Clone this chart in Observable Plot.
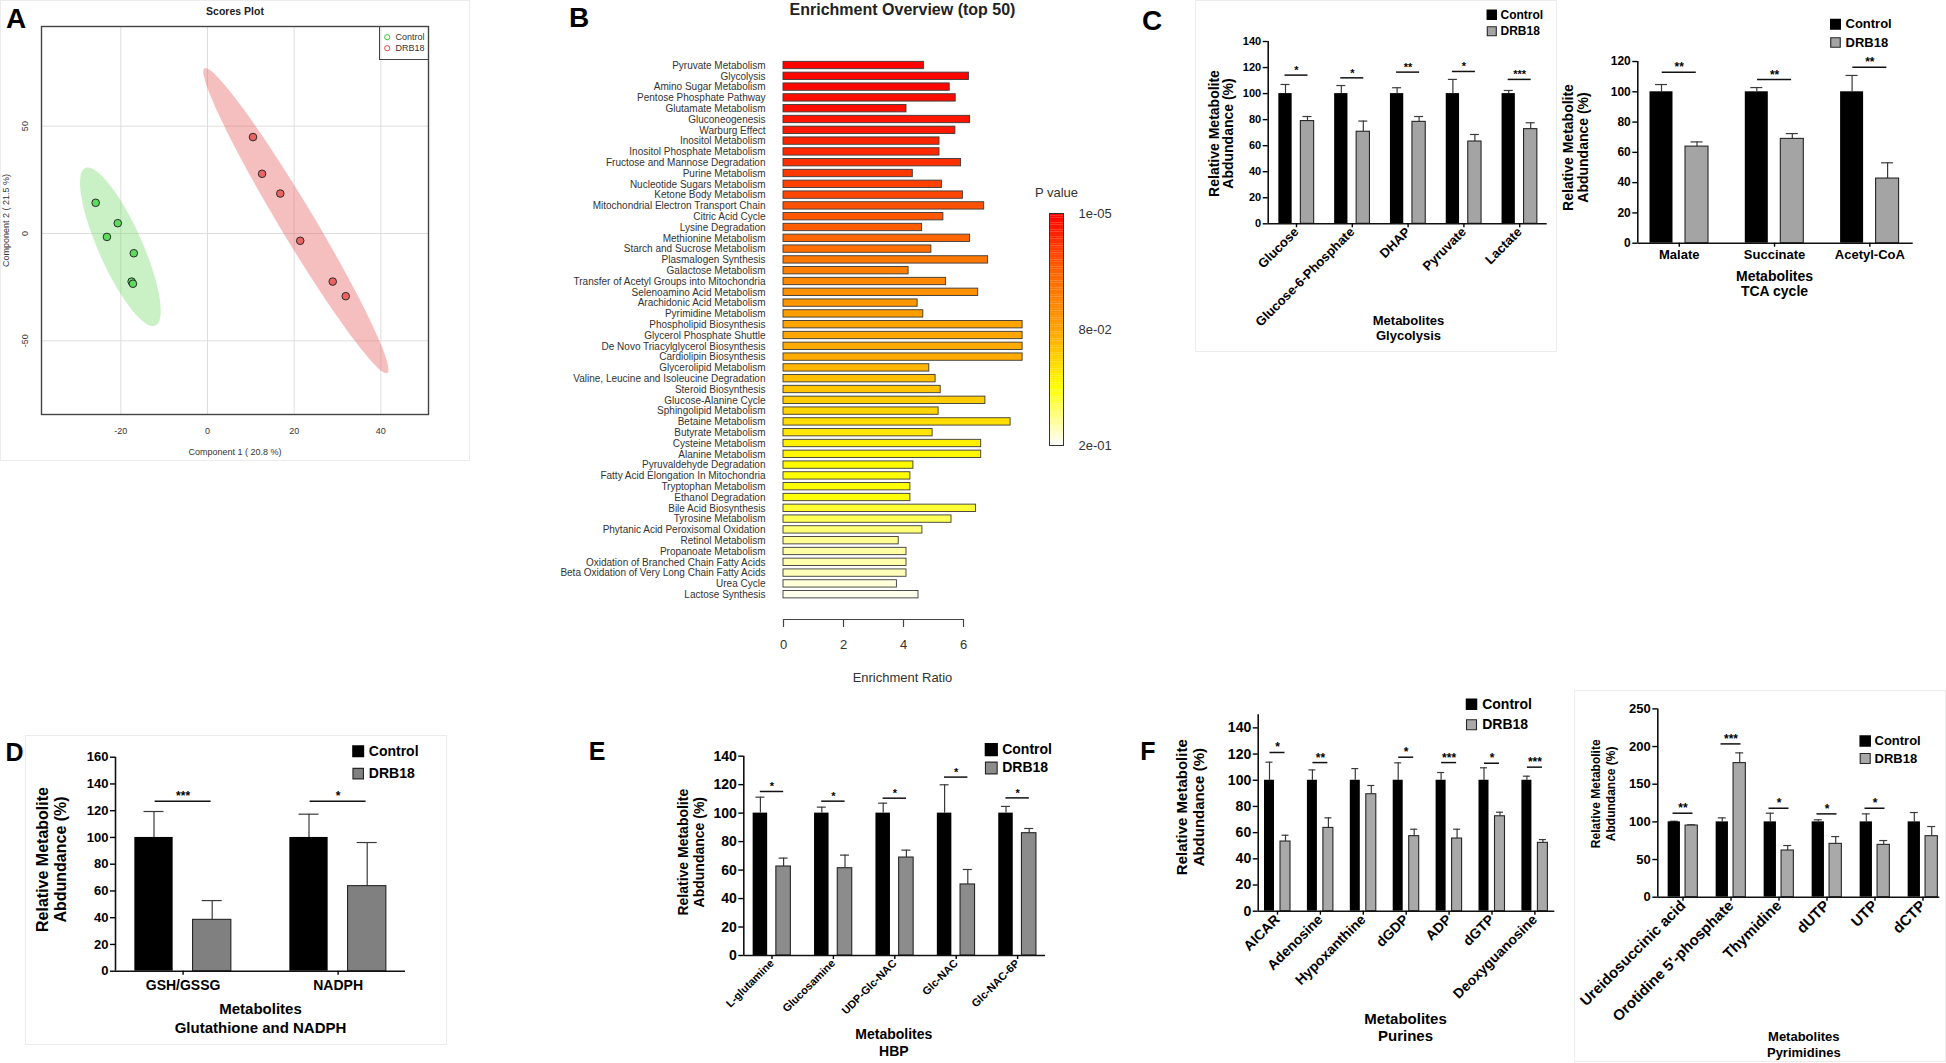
<!DOCTYPE html>
<html><head><meta charset="utf-8">
<script src="https://cdn.jsdelivr.net/npm/d3@7"></script>
<script src="https://cdn.jsdelivr.net/npm/@observablehq/plot@0.6"></script>
<style>
body{margin:0;background:#fff;}
#root{position:relative;width:1946px;height:1063px;overflow:hidden;background:#fff;font-family:'Liberation Sans',Arial,sans-serif;}
.letter{position:absolute;font-weight:bold;line-height:1;color:#000;transform:translate(-50%,-50%);}
.box{position:absolute;border:1px solid #ececec;}
</style></head><body><div id="root"></div>
<script>
// ---------------- Panel A: PLS-DA scores ----------------
const pcaXTicks = [-20, 0, 20, 40];
const pcaYTicks = [-50, 0, 50];
const controlPC1 = [-25.8, -20.7, -23.2, -17.0, -17.5, -17.2];
const controlPC2 = [14.3, 4.8, -1.6, -9.2, -22.4, -23.4];
const drbPC1 = [10.5, 12.6, 16.8, 21.4, 28.9, 31.9];
const drbPC2 = [44.9, 27.8, 18.6, -3.4, -22.4, -29.2];
const ellipseCenter = [[-20.1, -6.2], [20.4, 6.0]];
const ellipseMajor = [[8.1, -36.7], [21.1, -71.0]];
const ellipseMinor = [[-4.6, -4.2], [-3.4, -4.1]];

// ---------------- Panel B: enrichment ----------------
const pathways = ["Pyruvate Metabolism","Glycolysis","Amino Sugar Metabolism","Pentose Phosphate Pathway","Glutamate Metabolism","Gluconeogenesis","Warburg Effect","Inositol Metabolism","Inositol Phosphate Metabolism","Fructose and Mannose Degradation","Purine Metabolism","Nucleotide Sugars Metabolism","Ketone Body Metabolism","Mitochondrial Electron Transport Chain","Citric Acid Cycle","Lysine Degradation","Methionine Metabolism","Starch and Sucrose Metabolism","Plasmalogen Synthesis","Galactose Metabolism","Transfer of Acetyl Groups into Mitochondria","Selenoamino Acid Metabolism","Arachidonic Acid Metabolism","Pyrimidine Metabolism","Phospholipid Biosynthesis","Glycerol Phosphate Shuttle","De Novo Triacylglycerol Biosynthesis","Cardiolipin Biosynthesis","Glycerolipid Metabolism","Valine, Leucine and Isoleucine Degradation","Steroid Biosynthesis","Glucose-Alanine Cycle","Sphingolipid Metabolism","Betaine Metabolism","Butyrate Metabolism","Cysteine Metabolism","Alanine Metabolism","Pyruvaldehyde Degradation","Fatty Acid Elongation In Mitochondria","Tryptophan Metabolism","Ethanol Degradation","Bile Acid Biosynthesis","Tyrosine Metabolism","Phytanic Acid Peroxisomal Oxidation","Retinol Metabolism","Propanoate Metabolism","Oxidation of Branched Chain Fatty Acids","Beta Oxidation of Very Long Chain Fatty Acids","Urea Cycle","Lactose Synthesis"];
const enrichmentRatio = [4.68,6.18,5.54,5.74,4.10,6.22,5.73,5.20,5.20,5.92,4.31,5.28,5.98,6.69,5.33,4.62,6.22,4.93,6.82,4.17,5.42,6.49,4.47,4.66,7.97,7.97,7.97,7.97,4.86,5.07,5.24,6.73,5.17,7.57,4.97,6.59,6.59,4.33,4.23,4.23,4.23,6.42,5.60,4.63,3.84,4.10,4.10,4.10,3.78,4.50];
const pValues = [0.0005,0.002,0.003,0.005,0.006,0.008,0.010,0.0146,0.016,0.019,0.023,0.026,0.028,0.033,0.036,0.038,0.0425,0.049,0.054,0.058,0.064,0.069,0.074,0.077,0.081,0.083,0.085,0.086,0.093,0.098,0.102,0.108,0.113,0.119,0.124,0.130,0.134,0.137,0.140,0.141,0.142,0.152,0.161,0.168,0.175,0.179,0.181,0.184,0.191,0.196];
const enrichTicks = [0, 2, 4, 6];
const pColorDomain = [1e-5, 0.04, 0.08, 0.14, 0.2];
const pColorRange = ["#ff0000", "#ff6200", "#ffa200", "#ffff00", "#ffffff"];
const pLegendLabels = ["1e-05", "8e-02", "2e-01"];
const pLegendPos = [0, 0.5, 1];

// ---------------- Panel C ----------------
const glyCats = ["Glucose", "Glucose-6-Phosphate", "DHAP", "Pyruvate", "Lactate"];
const glyCtrl = [100, 100, 100, 100, 100];
const glyCtrlErr = [7.0, 6.2, 4.5, 10.9, 2.4];
const glyDrb = [78.9, 70.7, 78.3, 63.2, 72.7];
const glyDrbErr = [3.5, 8.2, 4.1, 5.4, 4.9];
const glySig = ["*", "*", "**", "*", "***"];
const glySigY = [114.2, 112.1, 116.5, 117.0, 110.9];

const tcaCats = ["Malate", "Succinate", "Acetyl-CoA"];
const tcaCtrl = [100, 100, 100];
const tcaCtrlErr = [4.8, 2.8, 10.8];
const tcaDrb = [63.8, 68.9, 42.7];
const tcaDrbErr = [3.1, 3.5, 10.4];
const tcaSig = ["**", "**", "**"];
const tcaSigY = [112.9, 108.1, 116.2];

// ---------------- Panel D ----------------
const gshCats = ["GSH/GSSG", "NADPH"];
const gshCtrl = [100, 100];
const gshCtrlErr = [19.4, 17.4];
const gshDrb = [38.4, 63.6];
const gshDrbErr = [14.4, 32.6];
const gshSig = ["***", "*"];
const gshSigY = [127.1, 127.1];

// ---------------- Panel E ----------------
const hbpCats = ["L-glutamine", "Glucosamine", "UDP-Glc-NAC", "Glc-NAC", "Glc-NAC-6P"];
const hbpCtrl = [100, 100, 100, 100, 100];
const hbpCtrlErr = [11.2, 4.2, 7.0, 19.9, 4.7];
const hbpDrb = [62.5, 61.3, 68.8, 49.9, 85.9];
const hbpDrbErr = [5.9, 9.2, 5.2, 10.5, 3.3];
const hbpSig = ["*", "*", "*", "*", "*"];
const hbpSigY = [115.2, 108.4, 110.5, 125.3, 110.7];

// ---------------- Panel F ----------------
const purCats = ["AICAR", "Adenosine", "Hypoxanthine", "dGDP", "ADP", "dGTP", "Deoxyguanosine"];
const purCtrl = [100, 100, 100, 100, 100, 100, 100];
const purCtrlErr = [13.8, 7.9, 8.9, 13.3, 5.9, 9.5, 3.1];
const purDrb = [53.2, 63.6, 89.3, 57.3, 55.5, 72.5, 52.2];
const purDrbErr = [4.8, 7.7, 6.7, 5.3, 7.1, 3.1, 2.5];
const purSig = ["*", "**", "", "*", "***", "*", "***"];
const purSigY = [121.2, 113.5, null, 117.6, 113.5, 113.0, 110.0];

const pyrCats = ["Ureidosuccinic acid", "Orotidine 5'-phosphate", "Thymidine", "dUTP", "UTP", "dCTP"];
const pyrCtrl = [100, 100, 100, 100, 100, 100];
const pyrCtrlErr = [0.8, 5.3, 11.5, 2.7, 10.6, 12.4];
const pyrDrb = [95.1, 178, 62.0, 70.8, 69.5, 81.0];
const pyrDrbErr = [1.0, 13.6, 6.6, 9.7, 5.7, 12.8];
const pyrSig = ["**", "***", "*", "*", "*", ""];
const pyrSigY = [111.5, 203.5, 118.1, 110.6, 118.1, null];

// =====================================================
const FONT = "'Liberation Sans', Arial, sans-serif";
const root = document.getElementById("root");
function place(el, left, top) {
  el.style.position = "absolute";
  el.style.left = left + "px";
  el.style.top = top + "px";
  root.appendChild(el);
}
function addDiv(cls, text, x, y, extra) {
  const d = document.createElement("div");
  d.className = cls;
  if (text) d.textContent = text;
  d.style.left = x + "px"; d.style.top = y + "px";
  Object.assign(d.style, extra || {});
  root.appendChild(d);
  return d;
}
const MID = {textAnchor: "middle", lineAnchor: "middle"};

// faint panel borders
addDiv("box", "", 0, 0, {width: "468px", height: "459px"});
addDiv("box", "", 25, 735, {width: "420px", height: "308px"});
addDiv("box", "", 1195, 0, {width: "360px", height: "350px"});
addDiv("box", "", 1574, 690, {width: "370px", height: "370px"});

// ---------- Panel A ----------
{
  const pts = [];
  controlPC1.forEach((v, i) => pts.push({x: v, y: controlPC2[i], g: "Control"}));
  drbPC1.forEach((v, i) => pts.push({x: v, y: drbPC2[i], g: "DRB18"}));
  const ell = [0, 1].map(k => d3.range(0, 73).map(j => {
    const t = j / 72 * 2 * Math.PI;
    return {x: ellipseCenter[k][0] + ellipseMajor[k][0] * Math.cos(t) + ellipseMinor[k][0] * Math.sin(t),
            y: ellipseCenter[k][1] + ellipseMajor[k][1] * Math.cos(t) + ellipseMinor[k][1] * Math.sin(t)};
  }));
  const svg = Plot.plot({
    width: 470, height: 470, marginLeft: 41, marginRight: 42, marginTop: 26, marginBottom: 56,
    x: {domain: [-38.3, 51], axis: null},
    y: {domain: [-84.3, 96.4], axis: null},
    style: {fontFamily: FONT, fontSize: "9px", background: "transparent", overflow: "visible", color: "#333"},
    marks: [
      Plot.ruleX(pcaXTicks, {stroke: "#dedede"}),
      Plot.ruleY(pcaYTicks, {stroke: "#dedede"}),
      Plot.line(ell[0], {x: "x", y: "y", fill: "rgb(120,220,110)", fillOpacity: 0.4, stroke: "none", curve: "linear-closed"}),
      Plot.line(ell[1], {x: "x", y: "y", fill: "rgb(232,95,95)", fillOpacity: 0.4, stroke: "none", curve: "linear-closed"}),
      Plot.dot(pts.filter(d => d.g === "Control"), {x: "x", y: "y", r: 3.8, fill: "#5cdc5c", stroke: "#2a2a2a", strokeWidth: 1}),
      Plot.dot(pts.filter(d => d.g === "DRB18"), {x: "x", y: "y", r: 3.8, fill: "#ec6262", stroke: "#2a2a2a", strokeWidth: 1}),
      Plot.frame({stroke: "#444", strokeWidth: 1.4}),
      Plot.text(pcaXTicks, {x: d => d, frameAnchor: "bottom", dy: 17, ...MID, text: d => String(d), fill: "#333"}),
      Plot.text(pcaYTicks, {y: d => d, frameAnchor: "left", dx: -16, ...MID, rotate: -90, text: d => String(d), fill: "#333"}),
      Plot.text(["Component 1 ( 20.8 %)"], {frameAnchor: "bottom", dy: 38, ...MID, text: d => d, fill: "#333"}),
      Plot.text(["Component 2 ( 21.5 %)"], {frameAnchor: "left", dx: -35, ...MID, rotate: -90, text: d => d, fill: "#333"}),
      Plot.text(["Scores Plot"], {frameAnchor: "top", dy: -15, ...MID, text: d => d, fontWeight: "bold", fontSize: 10.5, fill: "#222"}),
      Plot.dot(["Control"], {frameAnchor: "top-left", dx: 345.7, dy: 10.7, r: 2.6, stroke: "#33cc33", fill: "none", strokeWidth: 1}),
      Plot.dot(["DRB18"], {frameAnchor: "top-left", dx: 345.7, dy: 21.7, r: 2.6, stroke: "#e84a4a", fill: "none", strokeWidth: 1}),
      Plot.text(["Control"], {frameAnchor: "top-left", dx: 354, dy: 10.7, text: d => d, textAnchor: "start", lineAnchor: "middle", fill: "#333"}),
      Plot.text(["DRB18"], {frameAnchor: "top-left", dx: 354, dy: 21.7, text: d => d, textAnchor: "start", lineAnchor: "middle", fill: "#333"})
    ]
  });
  place(svg, 0, 0);
  addDiv("box", "", 379, 26, {width: "48px", height: "32px", border: "1.3px solid #444"});
}

// ---------- Panel B ----------
{
  const idx = d3.range(pathways.length);
  const rowY = py => (py - 65) / 10.8;       // page pixel -> row units
  const ox = 783, oy = 59.6;                  // frame origin on page
  const at = (px, py) => ({frameAnchor: "top-left", dx: px - ox, dy: py - oy, ...MID});
  const svg = Plot.plot({
    width: 540, height: 700, marginLeft: 243, marginRight: 57, marginTop: 59.6, marginBottom: 100.4,
    x: {domain: [0, 8], axis: null},
    y: {domain: [-0.5, 49.5], reverse: true, axis: null},
    color: {type: "linear", domain: pColorDomain, range: pColorRange},
    style: {fontFamily: FONT, fontSize: "10px", background: "transparent", overflow: "visible"},
    marks: [
      Plot.rect(idx, {x1: 0, x2: i => enrichmentRatio[i], y1: i => i - 0.34, y2: i => i + 0.34, fill: i => pValues[i], stroke: "#3a3a3a", strokeWidth: 0.9}),
      Plot.text(idx, {x: 0, y: i => i, dx: -18, text: i => pathways[i], textAnchor: "end", fill: "#333", fontSize: 10}),
      Plot.ruleY([rowY(619)], {x1: 0, x2: 6, stroke: "#444", strokeWidth: 1.2}),
      Plot.ruleX(enrichTicks, {x: d => d, y1: rowY(619), y2: rowY(627), stroke: "#444", strokeWidth: 1.2}),
      Plot.text(enrichTicks, {x: d => d, y: rowY(644), text: d => String(d), fontSize: 13, fill: "#333"}),
      Plot.text(["Enrichment Ratio"], {...at(902, 677), text: d => d, fontSize: 13, fill: "#333"}),
      Plot.text(["Enrichment Overview (top 50)"], {...at(902, 9), text: d => d, fontSize: 16, fontWeight: "bold", fill: "#222"})
    ]
  });
  place(svg, 540, 0);

  // colour legend
  const pOfT = d3.scaleLinear().domain([0, 0.25, 0.5, 0.75, 1]).range(pColorDomain);
  const steps = d3.range(0, 1, 0.01);
  const leg = Plot.plot({
    width: 110, height: 280, marginLeft: 29, marginRight: 67, marginTop: 33, marginBottom: 15,
    x: {domain: [0, 1], axis: null},
    y: {domain: [0, 1], range: [33, 265], axis: null},
    color: {type: "linear", domain: pColorDomain, range: pColorRange},
    style: {fontFamily: FONT, fontSize: "13px", background: "transparent", overflow: "visible"},
    marks: [
      Plot.rect(steps, {x1: 0, x2: 1, y1: t => t, y2: t => t + 0.0105, fill: t => pOfT(t + 0.005)}),
      Plot.frame({stroke: "#333", strokeWidth: 1}),
      Plot.text(pLegendPos, {x: 1, y: t => t, dx: 15, text: (t, i) => pLegendLabels[i], textAnchor: "start", fill: "#333"}),
      Plot.text(["P value"], {frameAnchor: "top", dy: -21, ...MID, text: d => d, fill: "#333"})
    ]
  });
  place(leg, 1020, 180);
}

// ---------- generic grouped bar panel ----------
function barPanel(d, L) {
  const [sx, sy, sw, sh] = L.box;
  const frameTop = L.y0 - L.yMax * L.ppu;
  const xd = [(L.axisLeft - L.c0) / L.step, (L.axisRight - L.c0) / L.step];
  const u = px => px / L.step;
  const rows = d.cats.map((c, i) => ({i, c,
    ctrl: d.ctrl[i], ctrlTop: d.ctrl[i] + d.ctrlErr[i],
    drb: d.drb[i], drbTop: d.drb[i] + d.drbErr[i],
    sig: d.sig[i], sigY: d.sigY[i]}));
  const sigRows = rows.filter(r => r.sig);
  const at = (px, py) => ({frameAnchor: "top-left", dx: px - L.axisLeft, dy: py - frameTop, ...MID});
  const es = "#3a3a3a", ew = 1.2;
  const sq = L.legSide / 1.772;
  const svg = Plot.plot({
    width: sw, height: sh,
    marginLeft: L.axisLeft - sx, marginRight: sx + sw - L.axisRight,
    marginTop: frameTop - sy, marginBottom: sy + sh - L.y0,
    x: {domain: xd, label: null},
    y: {domain: [0, L.yMax], label: null},
    style: {fontFamily: FONT, fontWeight: "bold", fontSize: "12px", background: "transparent", overflow: "visible", color: "#000"},
    marks: [
      // error bars (upper)
      Plot.ruleX(rows, {x: r => r.i - u(L.off), y1: "ctrl", y2: "ctrlTop", stroke: es, strokeWidth: ew}),
      Plot.ruleY(rows, {y: "ctrlTop", x1: r => r.i - u(L.off + L.cap / 2), x2: r => r.i - u(L.off - L.cap / 2), stroke: es, strokeWidth: ew}),
      Plot.ruleX(rows, {x: r => r.i + u(L.off), y1: "drb", y2: "drbTop", stroke: es, strokeWidth: ew}),
      Plot.ruleY(rows, {y: "drbTop", x1: r => r.i + u(L.off - L.cap / 2), x2: r => r.i + u(L.off + L.cap / 2), stroke: es, strokeWidth: ew}),
      // bars
      Plot.rect(rows, {x1: r => r.i - u(L.off + L.bw / 2), x2: r => r.i - u(L.off - L.bw / 2), y1: 0, y2: "ctrl", fill: "#000"}),
      Plot.rect(rows, {x1: r => r.i + u(L.off - L.bw / 2), x2: r => r.i + u(L.off + L.bw / 2), y1: 0, y2: "drb", fill: L.gray, stroke: "#262626", strokeWidth: 1.1}),
      // significance
      Plot.ruleY(sigRows, {y: "sigY", x1: r => r.i - u(L.sigHalf), x2: r => r.i + u(L.sigHalf), stroke: "#111", strokeWidth: 1.5}),
      Plot.text(sigRows, {x: "i", y: "sigY", text: "sig", lineAnchor: "bottom", dy: -1, fontSize: L.starSize}),
      // axes
      Plot.ruleY([0], {stroke: "#111", strokeWidth: 1.6}),
      Plot.ruleX([xd[0]], {y1: 0, y2: L.yMax, stroke: "#111", strokeWidth: 1.6}),
      Plot.axisY({ticks: L.yTicks, tickSize: 5, tickPadding: 2, fontSize: L.yTickFont, label: null, strokeWidth: 1.4}),
      Plot.axisX({ticks: d3.range(d.cats.length), tickFormat: i => d.cats[i], tickSize: 4, tickPadding: L.xTickPad, tickRotate: L.rotate, fontSize: L.xTickFont, label: null, strokeWidth: 1.4}),
      // titles
      Plot.text([L.yTitle], {...at(L.yTitleX, L.yTitleY), text: t => t, rotate: -90, fontSize: L.yTitleFont, lineHeight: L.yTitleLH}),
      Plot.text([L.xTitle], {...at(L.xTitleX, L.xTitleY), text: t => t, fontSize: L.xTitleFont, lineHeight: L.xTitleLH}),
      // legend
      Plot.dot(["Control"], {...at(L.legX, L.legY1), symbol: "square", r: sq, fill: "#000", stroke: "#000"}),
      Plot.dot(["DRB18"], {...at(L.legX, L.legY2), symbol: "square", r: sq, fill: L.gray, stroke: "#262626", strokeWidth: 1.1}),
      Plot.text(["Control"], {...at(L.legTextX, L.legY1), text: t => t, textAnchor: "start", fontSize: L.legFont}),
      Plot.text(["DRB18"], {...at(L.legTextX, L.legY2), text: t => t, textAnchor: "start", fontSize: L.legFont})
    ]
  });
  place(svg, sx, sy);
}
const YT = "Relative Metabolite\nAbdundance (%)";

barPanel({cats: glyCats, ctrl: glyCtrl, ctrlErr: glyCtrlErr, drb: glyDrb, drbErr: glyDrbErr, sig: glySig, sigY: glySigY}, {
  box: [1190, 0, 370, 360], axisLeft: 1267.7, axisRight: 1546.7, y0: 223.3, ppu: 1.302, yMax: 140, yTicks: d3.range(0, 141, 20),
  c0: 1296, step: 55.8, off: 11, bw: 13.3, cap: 9, gray: "#a4a4a4", sigHalf: 11.5, starSize: 11,
  yTickFont: 11, xTickFont: 13, xTickPad: 2, rotate: -45,
  yTitle: YT, yTitleX: 1220.7, yTitleY: 133, yTitleFont: 14, yTitleLH: 1.07,
  xTitle: "Metabolites\nGlycolysis", xTitleX: 1408, xTitleY: 327.5, xTitleFont: 13, xTitleLH: 1.15,
  legX: 1491.3, legY1: 14.2, legY2: 30.8, legSide: 9, legTextX: 1500, legFont: 12
});
barPanel({cats: tcaCats, ctrl: tcaCtrl, ctrlErr: tcaCtrlErr, drb: tcaDrb, drbErr: tcaDrbErr, sig: tcaSig, sigY: tcaSigY}, {
  box: [1560, 0, 386, 320], axisLeft: 1637.3, axisRight: 1912.7, y0: 242.7, ppu: 1.514, yMax: 120, yTicks: d3.range(0, 121, 20),
  c0: 1678.75, step: 95.3, off: 17.75, bw: 23, cap: 12, gray: "#a4a4a4", sigHalf: 17, starSize: 12,
  yTickFont: 12, xTickFont: 13, xTickPad: 3, rotate: 0,
  yTitle: YT, yTitleX: 1575.5, yTitleY: 147, yTitleFont: 14, yTitleLH: 1.07,
  xTitle: "Metabolites\nTCA cycle", xTitleX: 1774, xTitleY: 283.5, xTitleFont: 14, xTitleLH: 1.07,
  legX: 1835, legY1: 23.8, legY2: 42, legSide: 9.5, legTextX: 1845, legFont: 13
});
barPanel({cats: gshCats, ctrl: gshCtrl, ctrlErr: gshCtrlErr, drb: gshDrb, drbErr: gshDrbErr, sig: gshSig, sigY: gshSigY}, {
  box: [0, 730, 450, 333], axisLeft: 115, axisRight: 405, y0: 970.7, ppu: 1.3375, yMax: 160, yTicks: d3.range(0, 161, 20),
  c0: 182.6, step: 155, off: 29.1, bw: 38.3, cap: 20, gray: "#808080", sigHalf: 28, starSize: 12,
  yTickFont: 13, xTickFont: 14, xTickPad: 5, rotate: 0,
  yTitle: YT, yTitleX: 50.8, yTitleY: 859, yTitleFont: 16, yTitleLH: 1.14,
  xTitle: "Metabolites\nGlutathione and NADPH", xTitleX: 260, xTitleY: 1017, xTitleFont: 15, xTitleLH: 1.29,
  legX: 357.7, legY1: 750.8, legY2: 773.1, legSide: 10.5, legTextX: 368.3, legFont: 14
});
barPanel({cats: hbpCats, ctrl: hbpCtrl, ctrlErr: hbpCtrlErr, drb: hbpDrb, drbErr: hbpDrbErr, sig: hbpSig, sigY: hbpSigY}, {
  box: [660, 730, 460, 333], axisLeft: 743.3, axisRight: 1045, y0: 955, ppu: 1.4238, yMax: 140, yTicks: d3.range(0, 141, 20),
  c0: 771.5, step: 61.4, off: 11.6, bw: 14.5, cap: 9, gray: "#8c8c8c", sigHalf: 11.7, starSize: 11,
  yTickFont: 14, xTickFont: 11, xTickPad: 2, rotate: -45,
  yTitle: YT, yTitleX: 690, yTitleY: 851.7, yTitleFont: 14, yTitleLH: 1.19,
  xTitle: "Metabolites\nHBP", xTitleX: 893.3, xTitleY: 1041.7, xTitleFont: 14, xTitleLH: 1.19,
  legX: 990.8, legY1: 749.2, legY2: 767.5, legSide: 11.7, legTextX: 1001.7, legFont: 14
});
barPanel({cats: purCats, ctrl: purCtrl, ctrlErr: purCtrlErr, drb: purDrb, drbErr: purDrbErr, sig: purSig, sigY: purSigY}, {
  box: [1160, 690, 410, 373], axisLeft: 1257.7, axisRight: 1554.3, y0: 910.7, ppu: 1.3095, yMax: 150, yTicks: d3.range(0, 141, 20),
  c0: 1277, step: 42.9, off: 8, bw: 10, cap: 7, gray: "#a9a9a9", sigHalf: 7.5, starSize: 12,
  yTickFont: 14, xTickFont: 14, xTickPad: 2, rotate: -45,
  yTitle: YT, yTitleX: 1189.5, yTitleY: 806.7, yTitleFont: 15, yTitleLH: 1.17,
  xTitle: "Metabolites\nPurines", xTitleX: 1405, xTitleY: 1026.7, xTitleFont: 15, xTitleLH: 1.11,
  legX: 1471, legY1: 703.7, legY2: 724.2, legSide: 10, legTextX: 1481.7, legFont: 14
});
barPanel({cats: pyrCats, ctrl: pyrCtrl, ctrlErr: pyrCtrlErr, drb: pyrDrb, drbErr: pyrDrbErr, sig: pyrSig, sigY: pyrSigY}, {
  box: [1570, 690, 376, 373], axisLeft: 1657.3, axisRight: 1939.3, y0: 896.7, ppu: 0.7533, yMax: 250, yTicks: d3.range(0, 251, 50),
  c0: 1682.5, step: 48, off: 8.7, bw: 12.3, cap: 8, gray: "#a9a9a9", sigHalf: 10, starSize: 12,
  yTickFont: 13, xTickFont: 15, xTickPad: 2, rotate: -45,
  yTitle: YT, yTitleX: 1602.5, yTitleY: 793.3, yTitleFont: 12, yTitleLH: 1.25,
  xTitle: "Metabolites\nPyrimidines", xTitleX: 1803.3, xTitleY: 1043.3, xTitleFont: 13, xTitleLH: 1.28,
  legX: 1864.7, legY1: 740.5, legY2: 758, legSide: 10, legTextX: 1874, legFont: 13
});

// panel letters
addDiv("letter", "A", 16, 19, {fontSize: "28px"});
addDiv("letter", "B", 579, 18, {fontSize: "28px"});
addDiv("letter", "C", 1152, 21, {fontSize: "28px"});
addDiv("letter", "D", 14.5, 752, {fontSize: "25px"});
addDiv("letter", "E", 597, 751, {fontSize: "25px"});
addDiv("letter", "F", 1148, 751, {fontSize: "25px"});
</script></body></html>
